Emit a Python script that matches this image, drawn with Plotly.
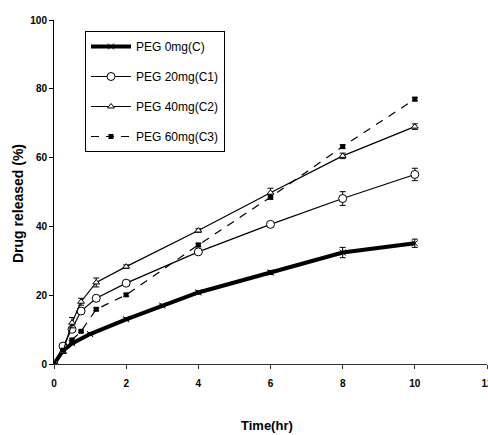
import plotly.graph_objects as go

# ---- data ----
t_c = [0, 0.25, 0.5, 1, 2, 3, 4, 6, 8, 10]
c_vals = [0, 3.9, 6.0, 8.7, 13.0, 17.0, 20.8, 26.6, 32.4, 35.1]
c_err = [0, 0.3, 0.3, 0.3, 0.4, 0.4, 0.5, 0.6, 1.5, 1.2]

t_other = [0, 0.25, 0.5, 0.75, 1.17, 2, 4, 6, 8, 10]
c1_vals = [0, 5.2, 10.1, 15.4, 19.1, 23.5, 32.6, 40.6, 48.1, 55.1]
c1_err = [0, 0.4, 0.5, 0.6, 0.6, 0.6, 0.7, 0.6, 2.0, 1.8]
c2_vals = [0, 3.6, 12.0, 18.1, 23.7, 28.3, 38.8, 49.8, 60.5, 69.0]
c2_err = [0, 0.5, 1.5, 1.0, 1.3, 0.5, 0.5, 1.3, 0.8, 0.8]
c3_vals = [0, 4.0, 7.0, 9.5, 15.9, 20.1, 34.6, 48.5, 63.2, 77.0]
c3_err = [0, 0.3, 0.3, 0.3, 0.4, 0.4, 0.5, 0.6, 0.5, 0.5]

names = ["PEG 0mg(C)", "PEG 20mg(C1)", "PEG 40mg(C2)", "PEG 60mg(C3)"]
x_ticks = [0, 2, 4, 6, 8, 10, 12]
y_ticks = [0, 20, 40, 60, 80, 100]

FONT = "Liberation Sans Narrow, Arial Narrow, Liberation Sans, Arial, sans-serif"

fig = go.Figure()

def err(arr):
    return dict(type="data", array=arr, visible=True, color="black",
                thickness=1, width=3)

fig.add_trace(go.Scatter(
    x=t_c, y=c_vals, name=names[0], mode="lines+markers",
    line=dict(color="black", width=4),
    marker=dict(symbol="x-thin-open", size=6, color="black",
                line=dict(color="black", width=1)),
    error_y=err(c_err), legendgroup="a"))

fig.add_trace(go.Scatter(
    x=t_other, y=c1_vals, name=names[1], mode="lines+markers",
    line=dict(color="black", width=1.2),
    marker=dict(symbol="circle", size=8, color="white",
                line=dict(color="black", width=1)),
    error_y=err(c1_err), legendgroup="b"))

fig.add_trace(go.Scatter(
    x=t_other, y=c2_vals, name=names[2], mode="lines+markers",
    line=dict(color="black", width=1.2),
    marker=dict(symbol="triangle-up", size=6, color="white",
                line=dict(color="black", width=1)),
    error_y=err(c2_err), legendgroup="c"))

fig.add_trace(go.Scatter(
    x=t_other, y=c3_vals, name=names[3], mode="lines+markers",
    line=dict(color="black", width=1.2, dash="8px,7px"),
    marker=dict(symbol="square", size=5, color="black",
                line=dict(color="black", width=0)),
    error_y=err(c3_err), legendgroup="d"))

fig.update_layout(
    width=488, height=435,
    margin=dict(l=54, r=1, t=20, b=71),
    paper_bgcolor="white", plot_bgcolor="white",
    font=dict(family=FONT, color="black"),
    showlegend=True,
    legend=dict(
        x=(85 - 54) / 433, y=(364 - 31) / 344, xanchor="left", yanchor="top",
        bgcolor="white", bordercolor="black", borderwidth=1,
        font=dict(family=FONT, size=12, color="black"),
        tracegroupgap=11, itemwidth=40,
    ),
    xaxis=dict(
        range=[0, 12], tickvals=x_ticks, ticktext=[str(v) for v in x_ticks],
        showgrid=False, zeroline=False, showline=True, linecolor="#333",
        linewidth=1, ticks="outside", ticklen=4, tickcolor="#333",
        automargin=False, ticklabeloverflow="allow", ticklabelstandoff=6,
        tickfont=dict(family=FONT, size=10, color="black", weight="bold"),
    ),
    yaxis=dict(
        range=[0, 100], tickvals=y_ticks, ticktext=[str(v) for v in y_ticks],
        showgrid=False, zeroline=False, showline=True, linecolor="black",
        linewidth=1, ticks="outside", ticklen=4, tickcolor="black",
        automargin=False,
        tickfont=dict(family=FONT, size=10, color="black", weight="bold"),
    ),
    annotations=[
        dict(text="<b>Drug released (%)</b>", xref="paper", yref="paper",
             x=(18 - 54) / 433, y=(364 - 204) / 344, xanchor="center",
             yanchor="middle", textangle=-90, showarrow=False,
             font=dict(family="Liberation Sans, Arial, sans-serif", size=14)),
        dict(text="<b>Time(hr)</b>", xref="paper", yref="paper",
             x=(267 - 54) / 433, y=-(426 - 364) / 344, xanchor="center",
             yanchor="middle", showarrow=False,
             font=dict(family=FONT, size=13)),
    ],
)

fig.write_html(
    "out.html",
    config={"displayModeBar": False},
    post_script="document.body.style.margin='0';"
                "document.body.style.overflow='hidden';",
)
